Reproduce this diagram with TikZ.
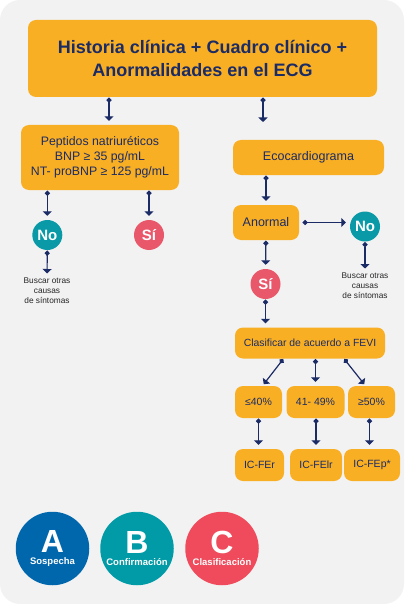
\documentclass[tikz,border=0pt]{standalone}
\usepackage{fontspec}
\setmainfont{Liberation Sans}
\usetikzlibrary{arrows.meta}

\definecolor{bggray}{HTML}{F2F2F2}
\definecolor{boxorange}{HTML}{F9AF23}
\definecolor{navy}{HTML}{1B2B66}
\definecolor{noteal}{HTML}{0A99A6}
\definecolor{sired}{HTML}{E9576A}
\definecolor{ablue}{HTML}{0067AD}
\definecolor{bteal}{HTML}{009BA6}
\definecolor{cred}{HTML}{EF4B5C}

\begin{document}
\begin{tikzpicture}[x=1pt,y=-1pt,
  box/.style={fill=boxorange, rounded corners=8pt, text=navy, align=center, inner sep=0pt},
  ans/.style={circle, minimum size=30pt, inner sep=0pt, text=white, font=\bfseries\fontsize{15}{15}\selectfont},
  note/.style={align=center, inner sep=0pt, text=black!85, font=\fontsize{8.3}{10}\selectfont},
  link/.style={navy, line width=1.2pt, arrows={Circle[length=5pt,width=5pt]-Triangle[length=4.5pt,width=9pt]}, shorten <=0.5pt, shorten >=4pt},
  badge/.style={circle, minimum size=73.5pt, inner sep=0pt, text=white, align=center}]

% draw background
\fill[bggray, rounded corners=20pt] (0,0) rectangle (404,604);
\useasboundingbox (0,0) rectangle (404,604);

% draw boxes
\node (hist) [box, minimum width=349pt, minimum height=77pt, font=\bfseries\fontsize{18}{23}\selectfont] at (202.5,58.5) {Historia clínica + Cuadro clínico +\\Anormalidades en el ECG};
\node (pept) [box, minimum width=158pt, minimum height=65pt, font=\fontsize{12.3}{15}\selectfont] at (100,157.5) {Peptidos natriuréticos\\BNP ≥ 35 pg/mL\\NT- proBNP ≥ 125 pg/mL};
\node (eco) [box, minimum width=151pt, minimum height=35pt, font=\fontsize{12.5}{14}\selectfont] at (308.5,157.5) {Ecocardiograma};
\node (anormal) [box, minimum width=66pt, minimum height=35pt, font=\fontsize{12.5}{14}\selectfont] at (266,222.5) {Anormal};
\node (clasif) [box, minimum width=150pt, minimum height=31pt, font=\fontsize{10.4}{12}\selectfont] at (310,343) {Clasificar de acuerdo a FEVI};

\node (le40) [box, minimum width=47pt, minimum height=32pt, font=\fontsize{10.5}{12}\selectfont] at (258.5,402) {≤40\%};
\node (mid) [box, minimum width=58pt, minimum height=32pt, font=\fontsize{10.5}{12}\selectfont] at (315.5,402) {41- 49\%};
\node (ge50) [box, minimum width=47pt, minimum height=32pt, font=\fontsize{10.5}{12}\selectfont] at (371.5,402) {≥50\%};

\node (fer) [box, minimum width=49pt, minimum height=32pt, font=\fontsize{10.5}{12}\selectfont] at (259.5,465) {IC-FEr};
\node (felr) [box, minimum width=52pt, minimum height=32pt, font=\fontsize{10.5}{12}\selectfont] at (316,465) {IC-FElr};
\node (fep) [box, minimum width=56pt, minimum height=32pt, font=\fontsize{10.5}{12}\selectfont] at (372,465) {IC-FEp*};

% draw answers
\node (noL) [ans, fill=noteal] at (47.3,235) {No};
\node (siL) [ans, fill=sired] at (149,235) {Sí};
\node (noR) [ans, fill=noteal] at (365,226.5) {No};
\node (siR) [ans, fill=sired] at (265.5,284) {Sí};

\node (buscL) [note, anchor=north] at (47,277.5) {Buscar otras\\causas\\de síntomas};
\node (buscR) [note, anchor=north] at (365,272.5) {Buscar otras\\causas\\de síntomas};

% draw connectors
\coordinate (ecoin) at (263,126);
\draw[link] (hist.south -| 109,0) -- (pept.north -| 109,0);
\draw[link] (hist.south -| ecoin) -- (ecoin);
\draw[link] (pept.south -| noL) -- (noL);
\draw[link] (pept.south -| siL) -- (siL);
\draw[link] (noL) -- (buscL);
\draw[link] (eco.south -| anormal) -- (anormal);
\draw[link, shorten <=3.5pt] (anormal.east) -- (anormal.east -| noR.west);
\draw[link] (noR) -- (buscR);
\draw[link] (anormal) -- (siR);
\draw[link] (siR) -- (clasif.north -| siR);

\draw[link, shorten >=2pt] (clasif.south -| 283.5,0) -- ([xshift=4pt]le40.north);
\draw[link] (clasif.south -| mid) -- (mid);
\draw[link, shorten >=2pt] (clasif.south -| 344,0) -- ([xshift=-6pt]ge50.north);

\draw[link] (le40) -- (fer.north -| le40);
\draw[link] (mid.south -| felr) -- (felr);
\draw[link] (ge50.south -| 369.5,0) -- (fep.north -| 369.5,0);

% draw stages
\node (stA) [badge, fill=ablue] at (52.5,548.5) {\bfseries\fontsize{32}{23}\selectfont A\\\bfseries\fontsize{9.5}{11}\selectfont Sospecha};
\node (stB) [badge, fill=bteal] at (137,548.5) {\bfseries\fontsize{32}{23}\selectfont B\\\bfseries\fontsize{9.5}{11}\selectfont Confirmación};
\node (stC) [badge, fill=cred] at (222,548.5) {\bfseries\fontsize{32}{23}\selectfont C\\\bfseries\fontsize{9.5}{11}\selectfont Clasificación};

\end{tikzpicture}
\end{document}
